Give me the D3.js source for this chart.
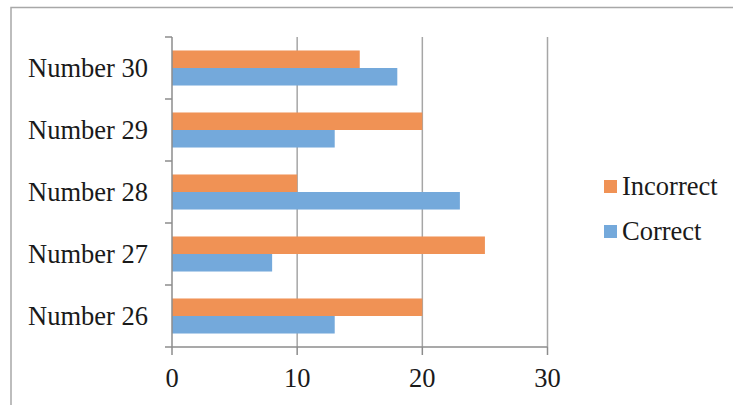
<!DOCTYPE html>
<html><head><meta charset="utf-8">
<script src="https://cdn.jsdelivr.net/npm/d3@7"></script>
<style>html,body{margin:0;padding:0;background:#fff;overflow:hidden;}svg{display:block;}</style>
</head><body>
<script>
const categories = ["Number 30","Number 29","Number 28","Number 27","Number 26"];
const incorrect = [15,20,10,25,20];
const correct = [18,13,23,8,13];
const seriesNames = ["Incorrect","Correct"];
const xTicks = [0,10,20,30];
const colors = {Incorrect:"#F09255", Correct:"#74A9DB"};

const W=733,H=405;
const svg=d3.select("body").append("svg").attr("width",W).attr("height",H);
// chart frame (only top and left edges fall inside the picture)
svg.append("path").attr("d",`M11,${H}V7.5H${W}`).attr("fill","none")
  .attr("stroke","#A8A8A8").attr("stroke-width",1.5);

const x=d3.scaleLinear().domain([0,30]).range([172,547.5]);
const y=d3.scaleBand().domain(categories).range([37,347]).paddingInner(0.435).paddingOuter(0.2175);
const y1=d3.scaleBand().domain(seriesNames).range([0,y.bandwidth()]);

const font="'Liberation Serif','Times New Roman',serif";
const fs=26.5;
// gridlines
svg.append("g").selectAll("line").data(xTicks.slice(1)).join("line")
  .attr("x1",d=>x(d)).attr("x2",d=>x(d)).attr("y1",37).attr("y2",347)
  .attr("stroke","#A6A6A6").attr("stroke-width",1.5);

const rows=categories.map((c,i)=>({c,vals:[{k:"Incorrect",v:incorrect[i]},{k:"Correct",v:correct[i]}]}));
const g=svg.append("g").selectAll("g").data(rows).join("g").attr("transform",d=>`translate(0,${y(d.c)})`);
g.selectAll("rect").data(d=>d.vals).join("rect")
  .attr("x",x(0)).attr("y",d=>y1(d.k)).attr("width",d=>x(d.v)-x(0)).attr("height",y1.bandwidth())
  .attr("fill",d=>colors[d.k]);

// y axis
const yTickPos=d3.range(categories.length+1).map(i=>37+i*(310/categories.length));
svg.append("line").attr("x1",172).attr("x2",172).attr("y1",37).attr("y2",347).attr("stroke","#8C8C8C").attr("stroke-width",1.5);
svg.append("g").selectAll("line").data(yTickPos).join("line")
  .attr("x1",165).attr("x2",172).attr("y1",d=>d).attr("y2",d=>d).attr("stroke","#8C8C8C").attr("stroke-width",1.5);
svg.append("g").selectAll("text").data(categories).join("text")
  .attr("x",148).attr("y",d=>y(d)+y.bandwidth()/2+8.5).attr("text-anchor","end")
  .attr("font-family",font).attr("font-size",fs).attr("fill","#1a1a1a").text(d=>d);

// x axis
svg.append("line").attr("x1",172).attr("x2",547.5).attr("y1",347).attr("y2",347).attr("stroke","#8C8C8C").attr("stroke-width",1.5);
svg.append("g").selectAll("line").data(xTicks).join("line")
  .attr("x1",d=>x(d)).attr("x2",d=>x(d)).attr("y1",347).attr("y2",355).attr("stroke","#8C8C8C").attr("stroke-width",1.5);
svg.append("g").selectAll("text").data(xTicks).join("text")
  .attr("x",d=>x(d)).attr("y",387).attr("text-anchor","middle")
  .attr("font-family",font).attr("font-size",fs).attr("fill","#1a1a1a").text(d=>d);

// legend
const lg=svg.append("g").selectAll("g").data(seriesNames).join("g")
  .attr("transform",(d,i)=>`translate(604,${180+i*45})`);
lg.append("rect").attr("width",13).attr("height",13).attr("fill",d=>colors[d]);
lg.append("text").attr("x",18).attr("y",15).attr("font-family",font).attr("font-size",fs).attr("fill","#1a1a1a").text(d=>d);
</script>
</body></html>
